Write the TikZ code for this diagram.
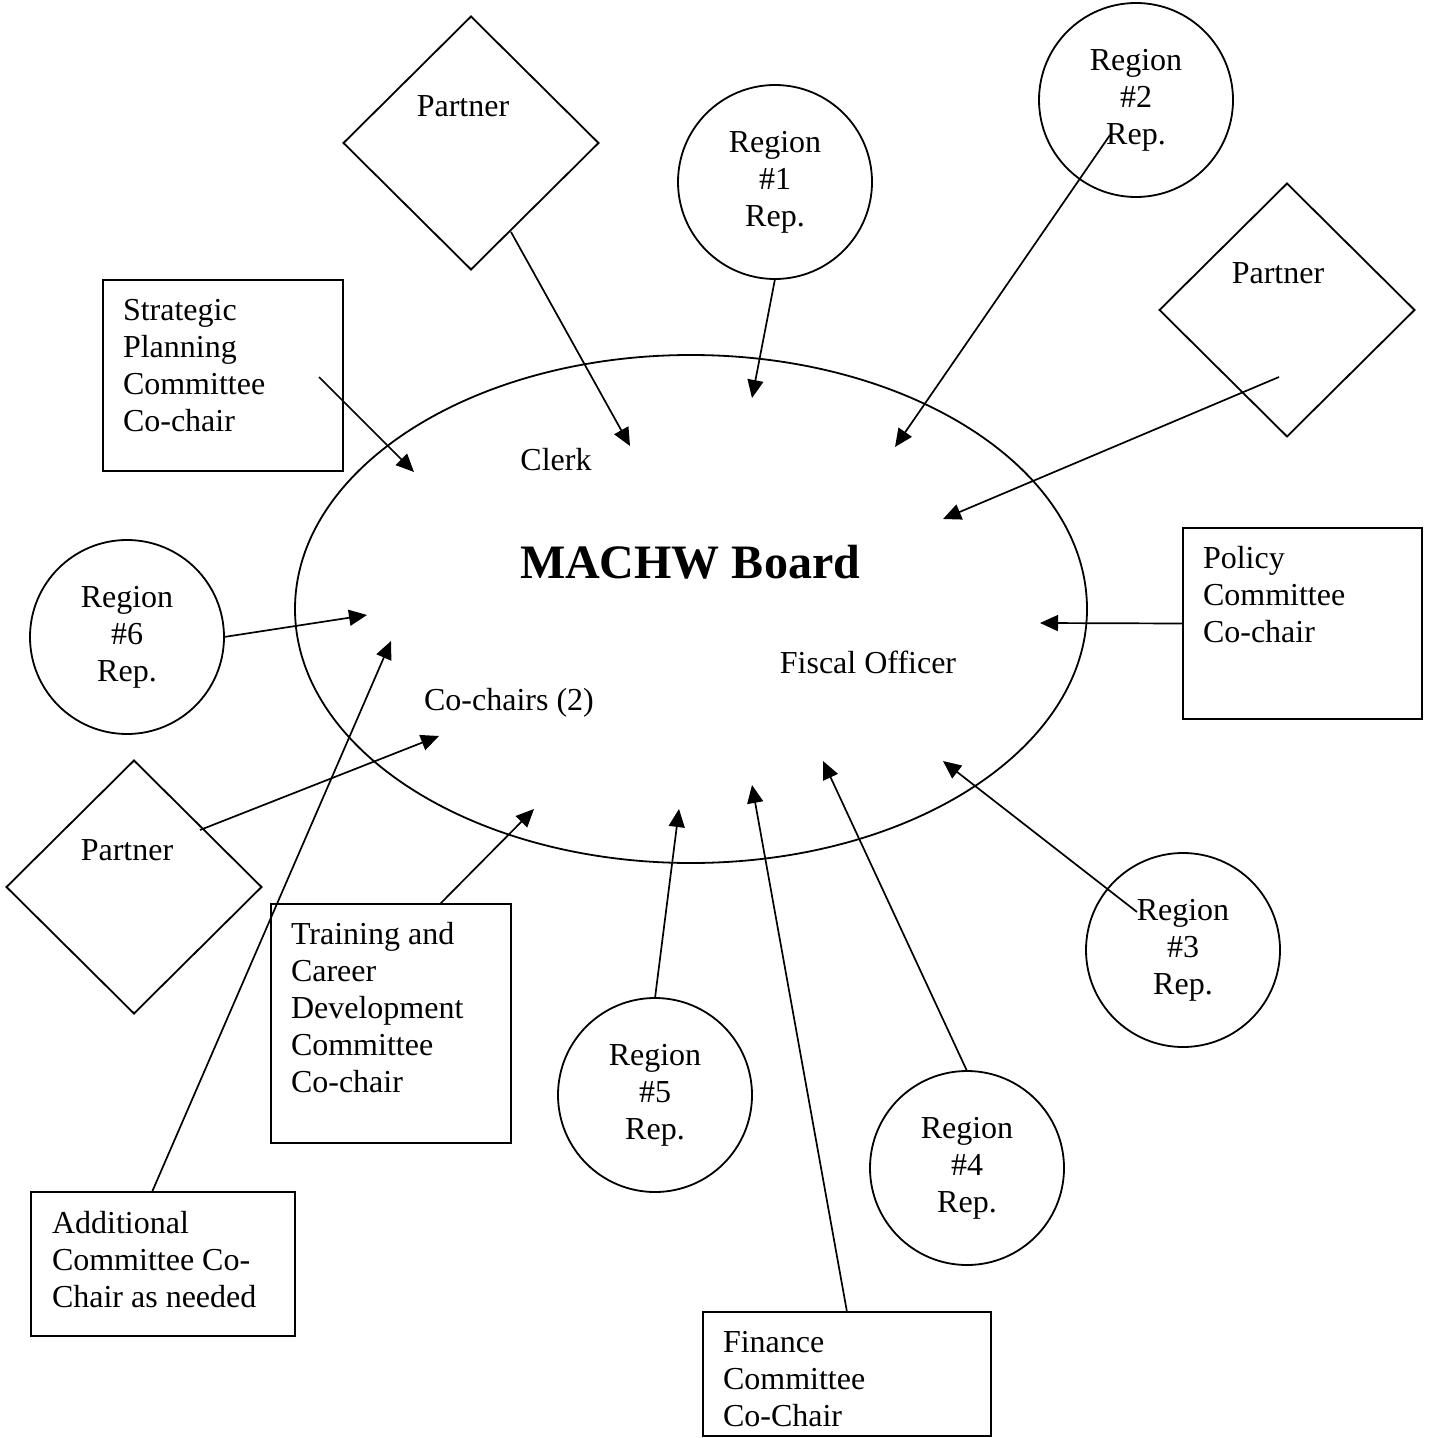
\documentclass[tikz,border=0pt]{standalone}
\usepackage{fontspec}
\setmainfont{Liberation Serif}
\usetikzlibrary{shapes.geometric,arrows.meta}
\begin{document}
\begin{tikzpicture}[x=0.5pt,y=-0.5pt,
  every node/.style={inner sep=0pt, outer sep=0pt, font=\fontsize{16}{18.5}\selectfont},
  region/.style={circle, draw, line width=0.9pt, minimum size=97pt, align=center},
  partner/.style={diamond, draw, line width=0.9pt, minimum width=127.5pt, minimum height=126.5pt},
  cbox/.style={draw, line width=1pt, rectangle},
  lbl/.style={align=left, anchor=north west},
  conn/.style={line width=0.85pt, -{Triangle[length=9pt,width=8pt]}}]
\useasboundingbox (0,0) rectangle (1429,1438);

% central board
\node[ellipse, draw, line width=0.9pt, minimum width=396pt, minimum height=254pt] (board) at (691,609) {};
\node[font=\fontsize{24}{28}\selectfont\bfseries] (boardtxt) at (690,562) {MACHW Board};
\node (clerk) at (556,460) {Clerk};
\node (fiscal) at (868,662) {Fiscal Officer};
\node (cochairs) at (509,703) {Co-chairs (2)};

% partners
\node[partner] (p1) at (471,143) {};
\node (p1t) at (463,106) {Partner};
\node[partner] (p2) at (1287,310) {};
\node (p2t) at (1278,273) {Partner};
\node[partner] (p3) at (134,887) {};
\node (p3t) at (127,850) {Partner};

% regions
\node[region] (r1) at (775,182) {Region\\\#1\\Rep.};
\node[region] (r2) at (1136,100) {Region\\\#2\\Rep.};
\node[region] (r3) at (1183,950) {Region\\\#3\\Rep.};
\node[region] (r4) at (967,1168) {Region\\\#4\\Rep.};
\node[region] (r5) at (655,1095) {Region\\\#5\\Rep.};
\node[region] (r6) at (127,637) {Region\\\#6\\Rep.};

% committee boxes
\node[cbox, minimum width=120pt, minimum height=95.5pt] (strat) at (223,375.5) {};
\node[lbl] (stratt) at (123,299) {Strategic\\Planning\\Committee\\Co-chair};
\node[cbox, minimum width=119.5pt, minimum height=95.5pt] (pol) at (1302.5,623.5) {};
\node[lbl] (polt) at (1203,546) {Policy\\Committee\\Co-chair};
\node[cbox, minimum width=120pt, minimum height=119.5pt] (train) at (391,1023.5) {};
\node[lbl] (traint) at (291,922) {Training and\\Career\\Development\\Committee\\Co-chair};
\node[cbox, minimum width=132pt, minimum height=72pt] (add) at (163,1264) {};
\node[lbl] (addt) at (52,1211) {Additional\\Committee Co-\\Chair as needed};
\node[cbox, minimum width=144pt, minimum height=62pt] (fin) at (847,1374) {};
\node[lbl] (fint) at (723,1331) {Finance\\Committee\\Co-Chair};

% arrow targets inside the board
\coordinate (t1) at (630,446);
\coordinate (t2) at (752,398);
\coordinate (t3) at (895,447);
\coordinate (t4) at (943,519);
\coordinate (t5) at (414,472);
\coordinate (t6) at (1040,623);
\coordinate (t7) at (367,615);
\coordinate (t8) at (391,641);
\coordinate (t9) at (439,736);
\coordinate (t10) at (534,809);
\coordinate (t11) at (679,809);
\coordinate (t12) at (752,785);
\coordinate (t13) at (823,761);
\coordinate (t14) at (943,761);

% connectors
\draw[conn] ([shift={(40,89)}]p1.center) -- (t1);
\draw[conn] (r1.south) -- (t2);
\draw[conn] ([shift={(-26,35)}]r2.center) -- (t3);
\draw[conn] ([shift={(-8,67)}]p2.center) -- (t4);
\draw[conn] ([shift={(96,1.5)}]strat.center) -- (t5);
\draw[conn] (pol.west) -- (t6);
\draw[conn] (r6.east) -- (t7);
\draw[conn] ([shift={(-11,0)}]add.north) -- (t8);
\draw[conn] ([shift={(66,-57)}]p3.center) -- (t9);
\draw[conn] ([shift={(49,0)}]train.north) -- (t10);
\draw[conn] (r5.north) -- (t11);
\draw[conn] (fin.north) -- (t12);
\draw[conn] (r4.north) -- (t13);
\draw[conn] ([shift={(-46,-38)}]r3.center) -- (t14);
\end{tikzpicture}
\end{document}
